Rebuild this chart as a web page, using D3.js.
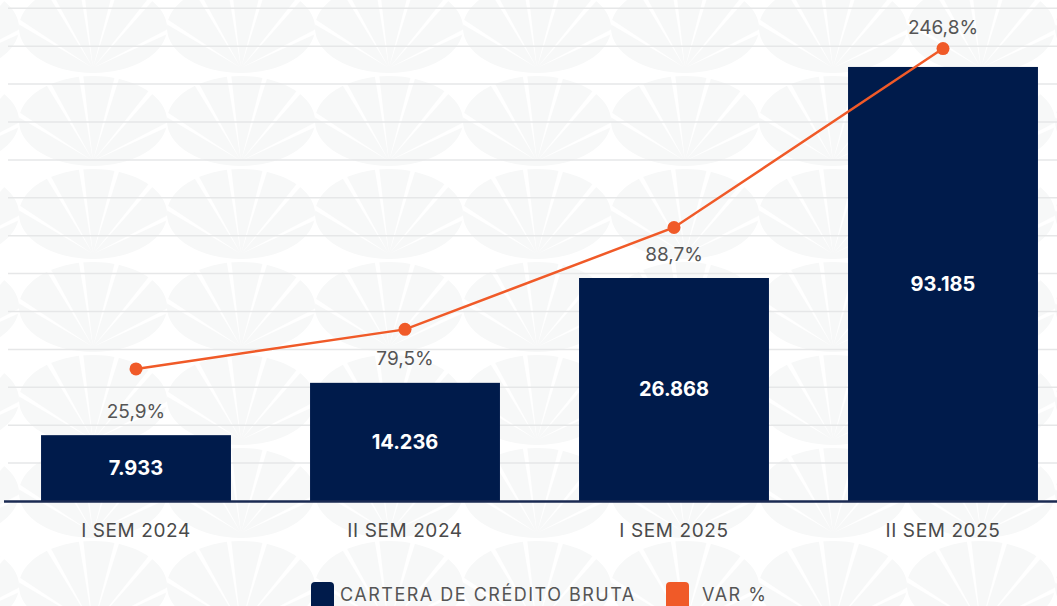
<!DOCTYPE html>
<html><head><meta charset="utf-8">
<script src="https://cdn.jsdelivr.net/npm/d3@7"></script>
<style>html,body{margin:0;padding:0;background:#fff;}svg{display:block;}</style>
</head><body>
<svg id="chart" width="1057" height="606"></svg>
<script>
const categories = ["I SEM 2024", "II SEM 2024", "I SEM 2025", "II SEM 2025"];
const cartera = [7933, 14236, 26868, 93185];
const varPct = [25.9, 79.5, 88.7, 246.8];
const legendLabels = ["CARTERA DE CRÉDITO BRUTA", "VAR %"];

const W = 1057, H = 606;
const baseY = 501;
const navy = "#001b4b", orange = "#f05a28";
const font = "Inter, 'Open Sans', sans-serif";
const svg = d3.select("#chart");

// background pattern
const defs = svg.append("defs");
const pat = defs.append("pattern").attr("id","bg").attr("patternUnits","userSpaceOnUse")
  .attr("width",148).attr("height",93).attr("x",19).attr("y",-18);
pat.append("ellipse").attr("cx",74).attr("cy",46).attr("rx",74).attr("ry",45).attr("fill","#f7f8f8");
[-58,-30,-8,16,40,64].forEach(a=>{
  const r = a*Math.PI/180, L=110, ox=74, oy=86;
  const tx = ox + Math.sin(r)*L, ty = oy - Math.cos(r)*L;
  const px = Math.cos(r)*3, py = Math.sin(r)*3;
  pat.append("path").attr("d",`M${ox},${oy}L${tx-px},${ty-py}L${tx+px},${ty+py}Z`).attr("fill","#fff");
});
svg.append("rect").attr("width",W).attr("height",H).attr("fill","url(#bg)");

// scales
const x = d3.scaleBand().domain(categories).range([1.5, 1077.5]).paddingInner(0.294).paddingOuter(0.147);
const yBar = d3.scaleLinear().domain([0, 30000, 100000]).range([baseY, 252, 47]);
const yVar = d3.scaleLinear().domain([0, 80, 89, 250]).range([388, 329, 224, 45]);

// gridlines
const gridVals = d3.range(0, 13).map(i => baseY - 37.9*(i+1));
svg.append("g").selectAll("line").data(gridVals).join("line")
  .attr("x1",8).attr("x2",W).attr("y1",d=>d).attr("y2",d=>d)
  .attr("stroke","#e6e7e8").attr("stroke-width",1.5);

// bars
svg.append("g").selectAll("rect").data(cartera).join("rect")
  .attr("x",(d,i)=>x(categories[i])).attr("width",x.bandwidth())
  .attr("y",d=>yBar(d)).attr("height",d=>baseY-yBar(d)).attr("fill",navy);

// baseline axis
const xAxis = d3.axisBottom(x).tickSize(0).tickPadding(23);
const ax = svg.append("g").attr("transform",`translate(0,${baseY})`).call(xAxis);
ax.select(".domain").remove();
ax.selectAll("text").attr("font-family",font).attr("font-size",19).attr("fill","#4a4a4a")
  .attr("font-weight",400).attr("letter-spacing","0.6px");
svg.append("line").attr("x1",4).attr("x2",W).attr("y1",baseY+0.5).attr("y2",baseY+0.5)
  .attr("stroke","#1a2a52").attr("stroke-width",2.5);

// bar value labels
const fmt = v => d3.format(",")(v).replace(/,/g,".");
svg.append("g").selectAll("text").data(cartera).join("text")
  .attr("x",(d,i)=>x(categories[i])+x.bandwidth()/2)
  .attr("y",d=>(yBar(d)+baseY)/2)
  .attr("dy","0.35em").attr("text-anchor","middle")
  .attr("font-family",font).attr("font-weight",700).attr("font-size",20).attr("fill","#fff")
  .text(d=>fmt(d));

// line
const cx = i => x(categories[i]) + x.bandwidth()/2;
const line = d3.line().x((d,i)=>cx(i)).y(d=>yVar(d));
svg.append("path").datum(varPct).attr("d",line).attr("fill","none")
  .attr("stroke",orange).attr("stroke-width",2.5);
svg.append("g").selectAll("circle").data(varPct).join("circle")
  .attr("cx",(d,i)=>cx(i)).attr("cy",d=>yVar(d)).attr("r",6.5).attr("fill",orange);

// var labels
svg.append("g").selectAll("text").data(varPct).join("text")
  .attr("x",(d,i)=>cx(i))
  .attr("y",(d,i)=>{
    const top = yBar(cartera[i]), py = yVar(d);
    return (top - py > 40) ? top - 24 : py - 21;
  })
  .attr("dy","0.35em").attr("text-anchor","middle")
  .attr("font-family",font).attr("font-size",19).attr("fill","#555")
  .text(d=>d3.format(".1f")(d).replace(".",",")+"%");

// legend
const lg = svg.append("g");
const items = [{label:legendLabels[0], color:navy, x:311, tx:340},{label:legendLabels[1], color:orange, x:666, tx:702}];
items.forEach(it=>{
  lg.append("rect").attr("x",it.x).attr("y",582).attr("width",23).attr("height",30).attr("rx",4).attr("fill",it.color);
  lg.append("text").attr("x",it.tx).attr("y",601).attr("font-family",font).attr("font-size",18)
    .attr("letter-spacing","1.5px").attr("fill","#555").text(it.label);
});
</script>
</body></html>
